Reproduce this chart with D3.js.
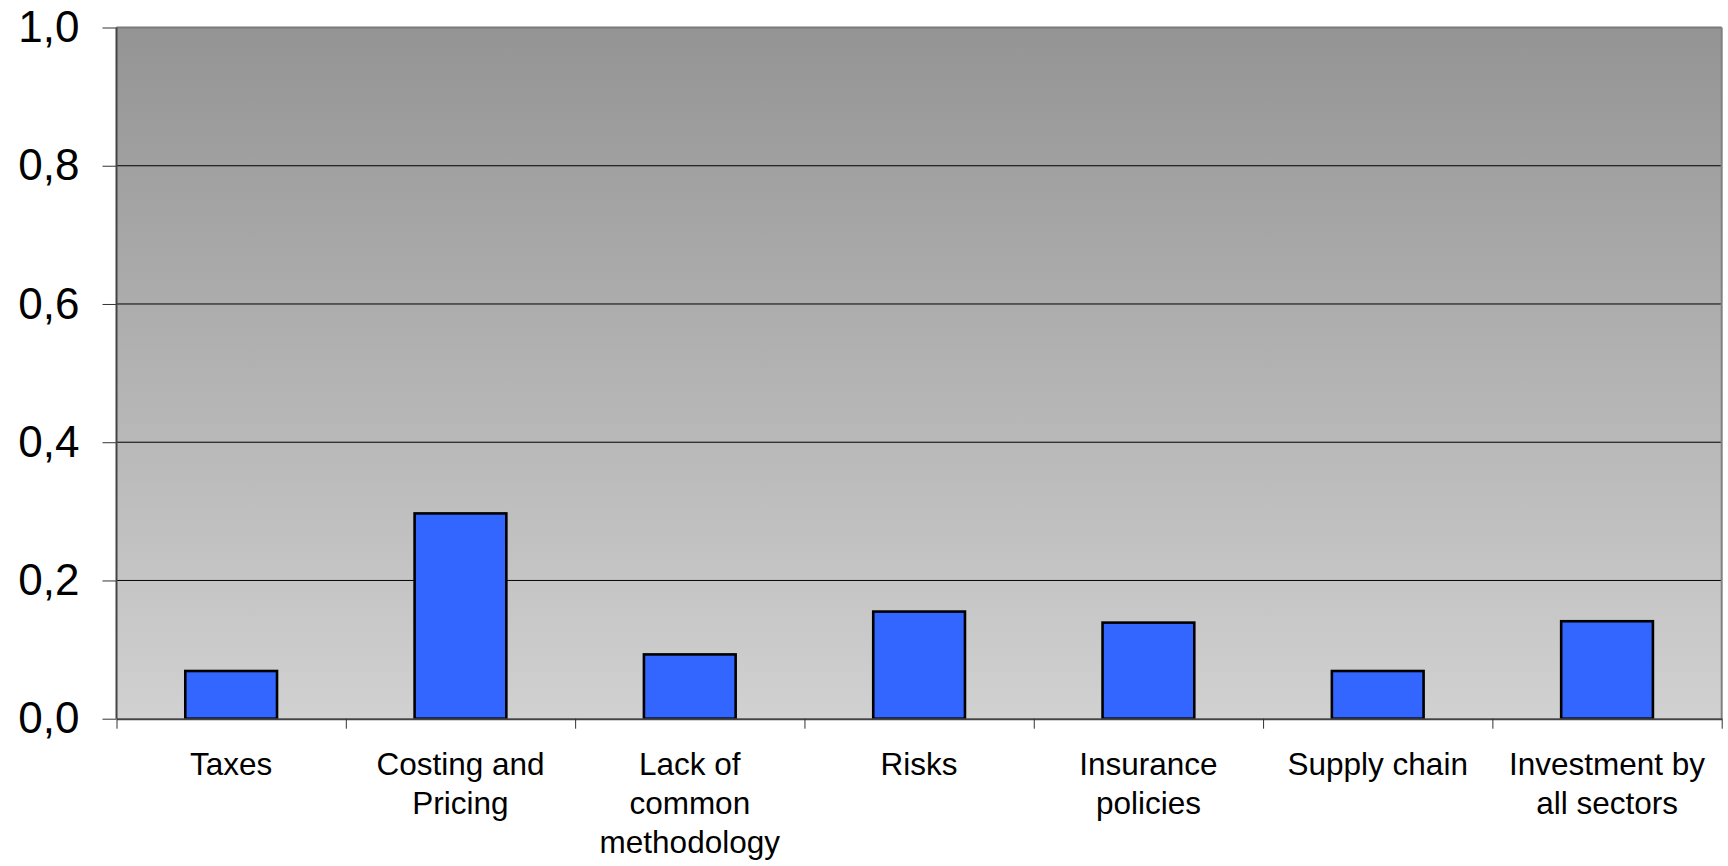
<!DOCTYPE html>
<html>
<head>
<meta charset="utf-8">
<script src="https://cdn.jsdelivr.net/npm/d3@7"></script>
<style>
  body { margin: 0; background: #fff; }
  text { font-family: "Liberation Sans", Arial, sans-serif; fill: #000; }
</style>
</head>
<body>
<svg id="chart"></svg>
<script>
var categories = [
    ["Taxes"],
    ["Costing and", "Pricing"],
    ["Lack of", "common", "methodology"],
    ["Risks"],
    ["Insurance", "policies"],
    ["Supply chain"],
    ["Investment by", "all sectors"]
]
var values = [0.069, 0.297, 0.093, 0.155, 0.139, 0.069, 0.141]
var yTicks = [0, 0.2, 0.4, 0.6, 0.8, 1.0]

var screen = {width:1728, height:866}
var margins = {top:27.5, bottom:147.3, left:116.5, right:6.3}
var graph = {
    width: screen.width-margins.left-margins.right,
    height: screen.height-margins.top-margins.bottom
}

var svg = d3.select("#chart")
    .attr("width",screen.width)
    .attr("height",screen.height)

var defs = svg.append("defs")
var grad = defs.append("linearGradient")
    .attr("id","bg")
    .attr("x1",0).attr("y1",0).attr("x2",0).attr("y2",1)
grad.append("stop").attr("offset","0%").attr("stop-color","#949494")
grad.append("stop").attr("offset","100%").attr("stop-color","#d1d1d1")

var g = svg.append("g")
    .attr("transform","translate("+margins.left+","+margins.top+")")

var yScale = d3.scaleLinear()
    .domain([0,1])
    .range([graph.height,0])

var xBand = d3.scaleBand()
    .domain(d3.range(categories.length))
    .range([0,graph.width])
    .paddingInner(0.6)
    .paddingOuter(0.3)

var xEdge = d3.scaleLinear()
    .domain([0,categories.length])
    .range([0,graph.width])

// plot background
g.append("rect")
    .attr("width",graph.width)
    .attr("height",graph.height)
    .attr("fill","url(#bg)")

// gridlines
g.selectAll(".grid")
    .data(yTicks.filter(function(d){return d>0 && d<1}))
    .enter()
    .append("line")
    .attr("x1",0)
    .attr("x2",graph.width)
    .attr("y1",function(d){return yScale(d)})
    .attr("y2",function(d){return yScale(d)})
    .attr("stroke","#000")
    .attr("stroke-width",1)

// top and right border
g.append("line")
    .attr("x1",0).attr("x2",graph.width)
    .attr("y1",yScale(1)).attr("y2",yScale(1))
    .attr("stroke","#7a7a7a").attr("stroke-width",2)
g.append("line")
    .attr("x1",graph.width).attr("x2",graph.width)
    .attr("y1",0).attr("y2",graph.height)
    .attr("stroke","#808080").attr("stroke-width",2)

// bars
g.selectAll(".bar")
    .data(values)
    .enter()
    .append("rect")
    .classed("bar",true)
    .attr("x",function(d,i){return xBand(i)})
    .attr("width",xBand.bandwidth())
    .attr("y",function(d){return yScale(d)})
    .attr("height",function(d){return graph.height-yScale(d)})
    .attr("fill","#3366ff")
    .attr("stroke","#000")
    .attr("stroke-width",2.6)

// axes
var comma = d3.formatLocale({decimal:",", thousands:".", grouping:[3], currency:["",""]}).format(".1f")

var yAxis = d3.axisLeft(yScale)
    .tickValues(yTicks)
    .tickFormat(comma)
    .tickSize(14)
    .tickPadding(23)

var yG = g.append("g").call(yAxis)
yG.select(".domain").remove()
yG.selectAll(".tick line").attr("stroke","#333")
yG.selectAll(".tick text")
    .attr("font-size",44)
    .attr("font-family","'Liberation Sans', Arial, sans-serif")

g.append("line")
    .attr("x1",0).attr("x2",0)
    .attr("y1",0).attr("y2",graph.height)
    .attr("stroke","#444").attr("stroke-width",2)

var xAxis = d3.axisBottom(xEdge)
    .tickValues(d3.range(categories.length+1))
    .tickFormat("")
    .tickSize(10)
    .tickSizeOuter(0)

var xG = g.append("g")
    .attr("transform","translate(0,"+graph.height+")")
    .call(xAxis)
xG.select(".domain").attr("stroke","#444").attr("stroke-width",2)
xG.selectAll(".tick line").attr("stroke","#333")

// category labels
var labels = g.append("g")
    .selectAll("text")
    .data(categories)
    .enter()
    .append("text")
    .attr("text-anchor","middle")
    .attr("font-size",31.5)
    .attr("x",function(d,i){return xBand(i)+xBand.bandwidth()/2})
    .attr("y",graph.height+56.5)

labels.selectAll("tspan")
    .data(function(d){return d})
    .enter()
    .append("tspan")
    .attr("x",function(){return d3.select(this.parentNode).attr("x")})
    .attr("dy",function(d,i){return i==0 ? 0 : 39})
    .text(function(d){return d})
</script>
</body>
</html>
